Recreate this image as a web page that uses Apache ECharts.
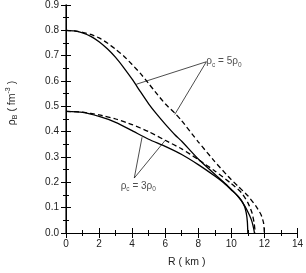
<!DOCTYPE html>
<html><head><meta charset="utf-8">
<script src="https://cdn.jsdelivr.net/npm/echarts@6/dist/echarts.min.js"></script>
<style>html,body{margin:0;padding:0;background:#fff}#c{width:306px;height:273px}</style>
</head><body><div id="c"></div>
<script>
// Data (R in km, rho_B in fm^-3)
const R5solid   = [0, 0.5, 1, 1.5, 2, 2.5, 3, 3.5, 4, 4.5, 5, 5.5, 6, 6.6, 7, 8, 9, 9.8, 10.4, 10.8, 11.1, 11.25, 11.35, 11.4];
const rho5solid = [0.8, 0.798, 0.79, 0.776, 0.755, 0.727, 0.693, 0.652, 0.607, 0.558, 0.51, 0.468, 0.43, 0.387, 0.362, 0.292, 0.232, 0.185, 0.145, 0.108, 0.07, 0.045, 0.018, 0];
const R5dash    = [0, 0.5, 1, 1.5, 2, 2.5, 3, 3.5, 4, 4.5, 5, 5.5, 6, 6.6, 7, 8, 9, 9.8, 10.4, 11, 11.5, 11.8, 11.95, 12.0];
const rho5dash  = [0.8, 0.798, 0.792, 0.784, 0.77, 0.75, 0.725, 0.698, 0.665, 0.63, 0.59, 0.549, 0.51, 0.472, 0.443, 0.36, 0.282, 0.224, 0.185, 0.147, 0.105, 0.072, 0.04, 0];
const R3solid   = [0, 1, 2, 3, 4, 5, 6, 7, 8, 9, 9.5, 10, 10.3, 10.6, 10.8, 10.9, 10.97, 11.0];
const rho3solid = [0.48, 0.476, 0.46, 0.437, 0.404, 0.37, 0.342, 0.31, 0.27, 0.225, 0.2, 0.17, 0.152, 0.13, 0.105, 0.08, 0.045, 0];
const R3dash    = [0, 1, 2, 3, 4, 5, 6, 7, 8, 9, 10, 10.6, 11, 11.25, 11.38, 11.45];
const rho3dash  = [0.48, 0.477, 0.466, 0.45, 0.428, 0.4, 0.366, 0.332, 0.29, 0.245, 0.195, 0.16, 0.12, 0.08, 0.04, 0];
const xTicks = [0, 2, 4, 6, 8, 10, 12, 14];
const yTicks = [0.0, 0.1, 0.2, 0.3, 0.4, 0.5, 0.6, 0.7, 0.8, 0.9];
// Annotations: label anchor and pointer ends [R, rho]
const label5 = [8.49, 0.676];
const ptr5 = [[4.25, 0.587], [6.58, 0.468]];
const label3 = [4.13, 0.217];
const ptr3 = [[4.6, 0.378], [5.98, 0.364]];

const zip = (a, b) => a.map((v, i) => [v, b[i]]);
const F = 'Liberation Sans, Arial, sans-serif';
const TXT = '#222';
const chart = echarts.init(document.getElementById('c'), null, {renderer: 'canvas'});

function axisBase(show) {
  return {
    axisLine: {show: true, lineStyle: {color: '#000', width: 1}},
    axisTick: {show: true, inside: true, length: 5, lineStyle: {color: '#000'}},
    minorTick: {show: true, splitNumber: 2, length: 3, lineStyle: {color: '#000'}},
    splitLine: {show: false},
    axisLabel: {show: show, color: TXT, fontFamily: F, fontSize: 10}
  };
}
const rich = {
  n: {fontFamily: F, fontSize: 10, color: TXT, lineHeight: 14, verticalAlign: 'middle'},
  s: {fontFamily: F, fontSize: 6.5, color: TXT, lineHeight: 14, verticalAlign: 'bottom', padding: [5, 0, 0, 0]}
};
function seg(a, b) {
  return {type: 'line', data: [a, b], symbol: 'none', silent: true,
    lineStyle: {color: '#000', width: 0.7}, z: 1};
}
const lineStyle = (type) => ({color: '#000', width: 1.3, type: type});
const curve = (R, rho, type) => ({type: 'line', data: zip(R, rho), symbol: 'none',
  smooth: 0.2, lineStyle: lineStyle(type), z: 3});

chart.setOption({
  animation: false,
  backgroundColor: '#fff',
  grid: {left: 66, right: 6, top: 5, bottom: 35},
  xAxis: [
    Object.assign(axisBase(true), {type: 'value', min: 0, max: 14, interval: 2, position: 'bottom',
      axisLabel: {color: TXT, fontFamily: F, fontSize: 10, margin: 6, formatter: v => xTicks.includes(v) ? String(v) : ''},
      name: 'R ( km )', nameLocation: 'middle', nameGap: 24,
      nameTextStyle: {fontFamily: F, fontSize: 10.5, color: TXT, padding: [0, 0, 0, 10]}}),
    Object.assign(axisBase(false), {type: 'value', min: 0, max: 14, interval: 2, position: 'top'})
  ],
  yAxis: [
    Object.assign(axisBase(true), {type: 'value', min: 0, max: 0.9, interval: 0.1, position: 'left',
      axisLine: {show: true, lineStyle: {color: '#444', width: 1.6}},
      axisLabel: {color: TXT, fontFamily: F, fontSize: 10, margin: 7,
        formatter: v => yTicks.map(t => t.toFixed(1)).includes(v.toFixed(1)) ? v.toFixed(1) : ''}}),
    Object.assign(axisBase(false), {type: 'value', min: 0, max: 0.9, interval: 0.1, position: 'right'})
  ],
  graphic: [{
    type: 'text', x: 12, y: 103, rotation: Math.PI / 2,
    style: {
      align: 'center', verticalAlign: 'middle',
      rich: {
        n: {fontFamily: F, fontSize: 10.5, fill: TXT, lineHeight: 14, verticalAlign: 'middle'},
        s: {fontFamily: F, fontSize: 7, fill: TXT, lineHeight: 14, verticalAlign: 'bottom', padding: [5, 0, 0, 0]},
        p: {fontFamily: F, fontSize: 7, fill: TXT, lineHeight: 14, verticalAlign: 'top', padding: [0, 0, 5, 0]}
      },
      text: '{n|ρ}{s|B}{n| ( fm}{p|-3}{n| )}'
    }
  }],
  series: [
    curve(R5solid, rho5solid, 'solid'),
    curve(R5dash, rho5dash, [5, 3]),
    curve(R3solid, rho3solid, 'solid'),
    curve(R3dash, rho3dash, [5, 3]),
    seg(label5, ptr5[0]), seg(label5, ptr5[1]),
    seg(label3, ptr3[0]), seg(label3, ptr3[1]),
    {type: 'scatter', symbolSize: 0, silent: true, data: [label5],
      label: {show: true, position: 'right', distance: 0, offset: [0, 0], rich: rich,
        formatter: '{n|ρ}{s|c}{n| = 5ρ}{s|0}'}},
    {type: 'scatter', symbolSize: 0, silent: true, data: [label3],
      label: {show: true, position: 'bottom', distance: 1, offset: [4, 0], rich: rich,
        formatter: '{n|ρ}{s|c}{n| = 3ρ}{s|0}'}}
  ]
});
</script></body></html>
